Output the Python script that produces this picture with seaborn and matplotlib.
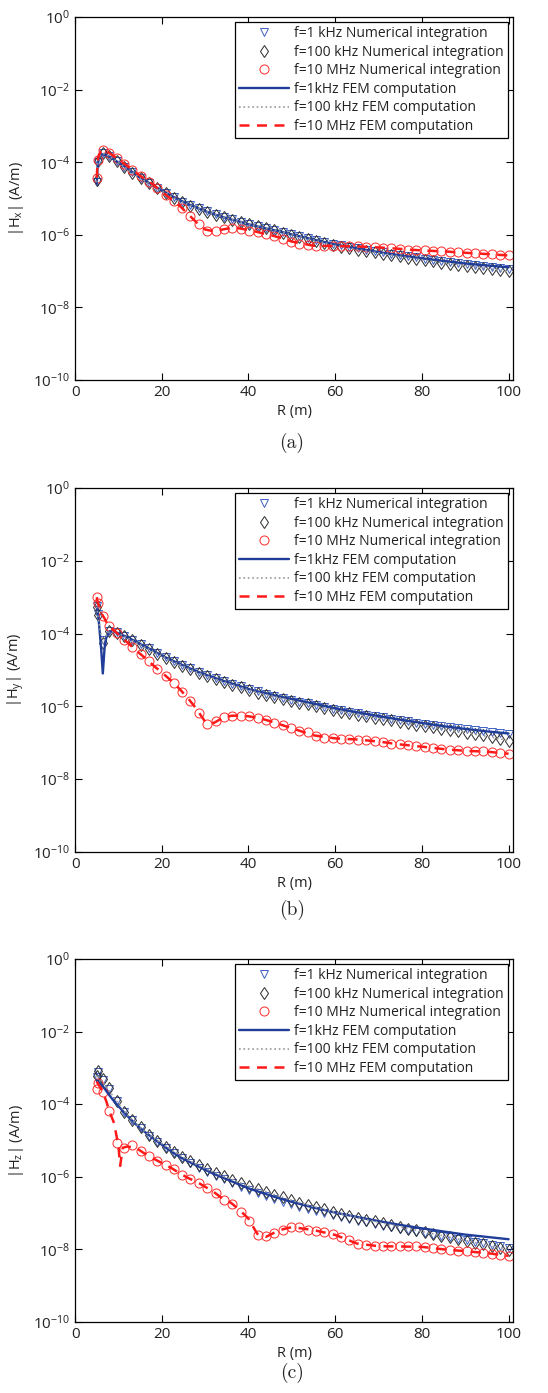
import matplotlib
matplotlib.use("Agg")
import matplotlib.pyplot as plt
import seaborn as sns

sns.set_style("ticks")
plt.rcParams["font.family"] = ["Open Sans", "DejaVu Sans"]
plt.rcParams["mathtext.fontset"] = "custom"
plt.rcParams["mathtext.rm"] = "Open Sans"
plt.rcParams["mathtext.it"] = "Open Sans:italic"
plt.rcParams["mathtext.default"] = "regular"

# distances of the numerical-integration samples
R_num = [5.0, 5.2, 6.4, 7.8, 9.6, 11.4, 13.2, 15.1, 17.0, 18.9, 20.9, 22.8, 24.7,
         26.6, 28.6, 30.5, 32.4, 34.4, 36.3, 38.2, 40.2, 42.1, 44.0, 45.9, 47.9,
         49.8, 51.7, 53.7, 55.6, 57.5, 59.4, 61.4, 63.3, 65.2, 67.2, 69.1, 71.0,
         72.9, 74.9, 76.8, 78.7, 80.7, 82.6, 84.5, 86.4, 88.4, 90.3, 92.2, 94.2,
         96.1, 98.0, 100.0]

# distances of the FEM curves
R_fem = [5.0, 5.2, 5.5, 6.0, 6.4, 6.8, 7.2, 8, 9, 10, 10.4, 11, 12, 14, 16, 18,
         20, 22, 24, 26, 28, 30, 32, 34, 36, 38, 40, 42, 44, 46, 48, 50, 55, 60,
         65, 70, 75, 80, 85, 90, 95, 100]

# ---- |Hx| ----
hx_1k = [2.8e-5, 1.0e-4, 1.75e-4, 1.45e-4, 1.07e-4, 7.6e-5, 5.3e-5, 3.7e-5, 2.65e-5,
         1.95e-5, 1.45e-5, 1.08e-5, 8.2e-6, 6.5e-6, 5.4e-6, 4.4e-6, 3.65e-6, 3.05e-6,
         2.65e-6, 2.3e-6, 2.0e-6, 1.75e-6, 1.55e-6, 1.37e-6, 1.2e-6, 1.03e-6, 9.2e-7,
         8.2e-7, 7.3e-7, 6.4e-7, 5.6e-7, 5.1e-7, 4.65e-7, 4.25e-7, 3.9e-7, 3.6e-7,
         3.3e-7, 3.05e-7, 2.8e-7, 2.6e-7, 2.4e-7, 2.22e-7, 2.06e-7, 1.92e-7, 1.8e-7,
         1.68e-7, 1.57e-7, 1.47e-7, 1.38e-7, 1.3e-7, 1.23e-7, 1.17e-7]
hx_100k = [3.2e-5, 1.08e-4, 1.8e-4, 1.45e-4, 1.05e-4, 7.5e-5, 5.2e-5, 3.6e-5, 2.6e-5,
           1.9e-5, 1.4e-5, 1.05e-5, 8.0e-6, 6.3e-6, 5.3e-6, 4.3e-6, 3.6e-6, 3.0e-6,
           2.6e-6, 2.25e-6, 1.95e-6, 1.7e-6, 1.5e-6, 1.32e-6, 1.15e-6, 9.8e-7, 8.7e-7,
           7.7e-7, 6.8e-7, 5.9e-7, 5.2e-7, 4.7e-7, 4.3e-7, 3.9e-7, 3.6e-7, 3.3e-7,
           3.05e-7, 2.8e-7, 2.55e-7, 2.35e-7, 2.15e-7, 2.0e-7, 1.85e-7, 1.72e-7, 1.6e-7,
           1.48e-7, 1.38e-7, 1.28e-7, 1.19e-7, 1.11e-7, 1.04e-7, 9.8e-8]
hx_10M = [3.7e-5, 1.15e-4, 2.2e-4, 1.8e-4, 1.3e-4, 8.9e-5, 6.1e-5, 4.2e-5, 2.9e-5,
          1.9e-5, 1.25e-5, 8.5e-6, 5.4e-6, 3.2e-6, 1.95e-6, 1.3e-6, 1.3e-6, 1.45e-6,
          1.55e-6, 1.45e-6, 1.3e-6, 1.17e-6, 1.03e-6, 9.3e-7, 7.8e-7, 6.5e-7, 5.6e-7,
          5.3e-7, 5.0e-7, 4.9e-7, 4.9e-7, 4.9e-7, 4.9e-7, 4.8e-7, 4.7e-7, 4.6e-7,
          4.4e-7, 4.3e-7, 4.1e-7, 3.9e-7, 3.8e-7, 3.7e-7, 3.6e-7, 3.5e-7, 3.4e-7,
          3.3e-7, 3.2e-7, 3.1e-7, 3.0e-7, 2.9e-7, 2.8e-7, 2.7e-7]
hx_fem_1k = [2.5e-5, 8e-5, 1.3e-4, 1.6e-4, 1.65e-4, 1.62e-4, 1.58e-4, 1.4e-4, 1.18e-4,
             9.8e-5, 9.2e-5, 8.3e-5, 6.8e-5, 4.6e-5, 3.2e-5, 2.3e-5, 1.65e-5, 1.22e-5,
             9.2e-6, 7.1e-6, 5.6e-6, 4.5e-6, 3.7e-6, 3.1e-6, 2.65e-6, 2.3e-6, 1.95e-6,
             1.72e-6, 1.5e-6, 1.33e-6, 1.17e-6, 1.02e-6, 7.4e-7, 5.4e-7, 4.2e-7, 3.35e-7,
             2.7e-7, 2.25e-7, 1.9e-7, 1.62e-7, 1.43e-7, 1.27e-7]
hx_fem_100k = [2.8e-5, 9e-5, 1.35e-4, 1.65e-4, 1.75e-4, 1.7e-4, 1.6e-4, 1.42e-4, 1.18e-4,
               9.8e-5, 9.0e-5, 8.0e-5, 6.6e-5, 4.5e-5, 3.1e-5, 2.2e-5, 1.6e-5, 1.18e-5,
               8.8e-6, 6.8e-6, 5.5e-6, 4.5e-6, 3.7e-6, 3.1e-6, 2.65e-6, 2.3e-6, 1.98e-6,
               1.72e-6, 1.52e-6, 1.32e-6, 1.15e-6, 1.0e-6, 7.2e-7, 5.1e-7, 3.95e-7, 3.2e-7,
               2.55e-7, 2.05e-7, 1.7e-7, 1.42e-7, 1.18e-7, 9.8e-8]
hx_fem_10M = [3.7e-5, 1.1e-4, 1.6e-4, 2.0e-4, 2.2e-4, 2.15e-4, 2.1e-4, 1.75e-4, 1.45e-4,
              1.2e-4, 1.1e-4, 9.7e-5, 8e-5, 5.2e-5, 3.5e-5, 2.4e-5, 1.55e-5, 1.0e-5,
              6.5e-6, 3.8e-6, 2.2e-6, 1.4e-6, 1.25e-6, 1.4e-6, 1.55e-6, 1.5e-6, 1.35e-6,
              1.2e-6, 1.05e-6, 9.2e-7, 7.8e-7, 6.5e-7, 5.0e-7, 4.9e-7, 4.8e-7, 4.5e-7,
              4.1e-7, 3.7e-7, 3.5e-7, 3.2e-7, 2.95e-7, 2.7e-7]

# ---- |Hy| ----
hy_1k = [5.8e-4, 3.4e-4, 6.5e-5, 1.2e-4, 1.07e-4, 8.7e-5, 6.7e-5, 5.1e-5, 3.9e-5,
         2.95e-5, 2.25e-5, 1.75e-5, 1.38e-5, 1.1e-5, 8.9e-6, 7.3e-6, 6.0e-6, 5.0e-6,
         4.2e-6, 3.55e-6, 3.0e-6, 2.6e-6, 2.25e-6, 1.97e-6, 1.73e-6, 1.53e-6, 1.36e-6,
         1.21e-6, 1.08e-6, 9.7e-7, 8.7e-7, 7.9e-7, 7.1e-7, 6.5e-7, 5.9e-7, 5.4e-7,
         4.95e-7, 4.55e-7, 4.2e-7, 3.9e-7, 3.6e-7, 3.35e-7, 3.1e-7, 2.9e-7, 2.7e-7,
         2.52e-7, 2.36e-7, 2.22e-7, 2.08e-7, 1.95e-7, 1.84e-7, 1.73e-7]
hy_100k = [5.5e-4, 3.2e-4, 5.5e-5, 1.2e-4, 1.05e-4, 8.5e-5, 6.5e-5, 4.9e-5, 3.7e-5,
           2.8e-5, 2.15e-5, 1.65e-5, 1.3e-5, 1.03e-5, 8.3e-6, 6.8e-6, 5.6e-6, 4.6e-6,
           3.9e-6, 3.3e-6, 2.8e-6, 2.4e-6, 2.1e-6, 1.85e-6, 1.62e-6, 1.43e-6, 1.27e-6,
           1.13e-6, 1.0e-6, 8.9e-7, 8.0e-7, 7.2e-7, 6.5e-7, 5.9e-7, 5.4e-7, 4.9e-7,
           4.5e-7, 4.1e-7, 3.75e-7, 3.45e-7, 3.15e-7, 2.9e-7, 2.65e-7, 2.45e-7, 2.25e-7,
           2.05e-7, 1.9e-7, 1.75e-7, 1.6e-7, 1.45e-7, 1.3e-7, 1.15e-7]
hy_10M = [1.0e-3, 7.0e-4, 3.1e-4, 1.6e-4, 1.05e-4, 6.8e-5, 4.2e-5, 2.8e-5, 1.75e-5,
          1.05e-5, 7.0e-6, 4.3e-6, 2.5e-6, 1.4e-6, 6.5e-7, 3.3e-7, 3.9e-7, 5.0e-7,
          5.6e-7, 5.6e-7, 5.3e-7, 4.8e-7, 4.2e-7, 3.6e-7, 3.0e-7, 2.5e-7, 2.1e-7,
          2.0e-7, 1.5e-7, 1.37e-7, 1.32e-7, 1.3e-7, 1.27e-7, 1.22e-7, 1.17e-7, 1.12e-7,
          1.05e-7, 9.5e-8, 9.0e-8, 8.5e-8, 8.0e-8, 7.6e-8, 7.2e-8, 6.8e-8, 6.5e-8,
          6.2e-8, 6.0e-8, 5.9e-8, 5.8e-8, 5.6e-8, 5.4e-8, 5.0e-8]
hy_fem_1k = [5.5e-4, 4e-4, 2e-4, 4e-5, 8e-6, 4e-5, 8e-5, 1.15e-4, 1.12e-4,
             1.02e-4, 9.7e-5, 9.0e-5, 8e-5, 6e-5, 4.5e-5, 3.4e-5, 2.5e-5, 1.9e-5,
             1.5e-5, 1.17e-5, 9.2e-6, 7.5e-6, 6.2e-6, 5.1e-6, 4.3e-6, 3.6e-6, 3.0e-6,
             2.6e-6, 2.3e-6, 2.0e-6, 1.78e-6, 1.58e-6, 1.2e-6, 8.8e-7, 6.9e-7, 5.4e-7,
             4.3e-7, 3.5e-7, 2.85e-7, 2.4e-7, 2.05e-7, 1.8e-7]
hy_fem_100k = [5.5e-4, 3.5e-4, 2.0e-4, 9e-5, 5.5e-5, 7e-5, 9e-5, 1.15e-4, 1.1e-4,
               1.0e-4, 9.6e-5, 8.9e-5, 7.6e-5, 5.7e-5, 4.3e-5, 3.2e-5, 2.45e-5, 1.85e-5,
               1.42e-5, 1.12e-5, 8.8e-6, 7.1e-6, 5.8e-6, 4.8e-6, 4.0e-6, 3.35e-6, 2.85e-6,
               2.45e-6, 2.1e-6, 1.85e-6, 1.62e-6, 1.43e-6, 1.05e-6, 7.8e-7, 5.9e-7, 4.65e-7,
               3.7e-7, 3.0e-7, 2.4e-7, 1.9e-7, 1.5e-7, 1.15e-7]
hy_fem_10M = [1.0e-3, 7.5e-4, 5.5e-4, 3.8e-4, 3.1e-4, 2.6e-4, 2.1e-4, 1.55e-4, 1.2e-4,
              9.5e-5, 8.5e-5, 7.3e-5, 5.8e-5, 3.5e-5, 2.2e-5, 1.35e-5, 8.5e-6, 5.3e-6,
              3.1e-6, 1.7e-6, 8.5e-7, 3.8e-7, 3.5e-7, 4.8e-7, 5.5e-7, 5.6e-7, 5.35e-7,
              4.85e-7, 4.25e-7, 3.6e-7, 3.0e-7, 2.5e-7, 1.6e-7, 1.32e-7, 1.23e-7, 1.08e-7,
              9.0e-8, 7.8e-8, 6.7e-8, 6.0e-8, 5.7e-8, 5.0e-8]

# ---- |Hz| ----
hz_1k = [5.5e-4, 7.5e-4, 4.5e-4, 2.6e-4, 1.2e-4, 6.0e-5, 3.6e-5, 2.2e-5, 1.35e-5,
         9.0e-6, 6.2e-6, 4.4e-6, 3.2e-6, 2.35e-6, 1.75e-6, 1.32e-6, 1.05e-6, 8.4e-7,
         6.8e-7, 5.3e-7, 4.3e-7, 3.55e-7, 2.95e-7, 2.45e-7, 2.05e-7, 1.75e-7, 1.5e-7,
         1.29e-7, 1.12e-7, 9.8e-8, 8.7e-8, 7.6e-8, 6.8e-8, 6.1e-8, 5.5e-8, 5.0e-8,
         4.5e-8, 4.1e-8, 3.7e-8, 3.35e-8, 3.05e-8, 2.8e-8, 2.55e-8, 2.35e-8, 2.15e-8,
         1.97e-8, 1.8e-8, 1.63e-8, 1.48e-8, 1.34e-8, 1.2e-8, 1.08e-8]
hz_100k = [6.0e-4, 8.0e-4, 5.0e-4, 2.7e-4, 1.25e-4, 6.2e-5, 3.7e-5, 2.3e-5, 1.45e-5,
           9.8e-6, 6.8e-6, 4.9e-6, 3.6e-6, 2.7e-6, 2.05e-6, 1.6e-6, 1.27e-6, 1.02e-6,
           8.3e-7, 6.7e-7, 5.5e-7, 4.6e-7, 3.85e-7, 3.2e-7, 2.7e-7, 2.3e-7, 1.95e-7,
           1.68e-7, 1.45e-7, 1.26e-7, 1.1e-7, 9.6e-8, 8.5e-8, 7.5e-8, 6.6e-8, 5.9e-8,
           5.3e-8, 4.7e-8, 4.2e-8, 3.75e-8, 3.35e-8, 3.0e-8, 2.7e-8, 2.4e-8, 2.15e-8,
           1.92e-8, 1.72e-8, 1.54e-8, 1.38e-8, 1.24e-8, 1.1e-8, 9.8e-9]
hz_10M = [2.6e-4, 3.8e-4, 2.2e-4, 6.5e-5, 8.5e-6, 6.1e-6, 7.3e-6, 5.2e-6, 3.7e-6,
          2.8e-6, 2.1e-6, 1.6e-6, 1.13e-6, 8.5e-7, 6.9e-7, 4.8e-7, 3.5e-7, 2.3e-7,
          1.8e-7, 1.1e-7, 6.0e-8, 2.5e-8, 2.3e-8, 2.9e-8, 3.5e-8, 4.1e-8, 4.1e-8,
          3.5e-8, 3.3e-8, 3.0e-8, 2.6e-8, 2.2e-8, 1.8e-8, 1.4e-8, 1.32e-8, 1.25e-8,
          1.2e-8, 1.2e-8, 1.2e-8, 1.2e-8, 1.2e-8, 1.15e-8, 1.08e-8, 1.02e-8, 9.6e-9,
          9.2e-9, 8.8e-9, 8.4e-9, 8.1e-9, 7.6e-9, 7.2e-9, 6.6e-9]
hz_fem_1k = [4.5e-4, 4.3e-4, 4.0e-4, 3.5e-4, 3.1e-4, 2.7e-4, 2.3e-4, 1.7e-4, 1.2e-4,
             8.8e-5, 7.8e-5, 6.5e-5, 4.8e-5, 2.8e-5, 1.75e-5, 1.15e-5, 7.6e-6, 5.2e-6,
             3.6e-6, 2.7e-6, 2.05e-6, 1.55e-6, 1.2e-6, 9.5e-7, 7.6e-7, 6.0e-7, 4.8e-7,
             4.0e-7, 3.35e-7, 2.8e-7, 2.38e-7, 2.03e-7, 1.42e-7, 1.03e-7, 7.8e-8, 6.0e-8,
             4.7e-8, 3.8e-8, 3.1e-8, 2.55e-8, 2.2e-8, 1.9e-8]
hz_fem_100k = [5.5e-4, 6.5e-4, 5.5e-4, 4.6e-4, 4.0e-4, 3.5e-4, 3.0e-4, 2.2e-4, 1.5e-4,
               1.05e-4, 9e-5, 7.3e-5, 5.2e-5, 2.9e-5, 1.8e-5, 1.2e-5, 8.2e-6, 5.7e-6,
               4.0e-6, 2.95e-6, 2.2e-6, 1.7e-6, 1.33e-6, 1.06e-6, 8.6e-7, 6.9e-7, 5.6e-7,
               4.7e-7, 3.9e-7, 3.2e-7, 2.7e-7, 2.25e-7, 1.5e-7, 1.05e-7, 7.5e-8, 5.6e-8,
               4.2e-8, 3.1e-8, 2.35e-8, 1.75e-8, 1.3e-8, 9.8e-9]
hz_fem_10M = [4.2e-4, 3.8e-4, 3.3e-4, 2.6e-4, 2.1e-4, 1.6e-4, 1.2e-4, 6e-5, 3.0e-5,
              7e-6, 2.0e-6, 6.3e-6, 6.8e-6, 6.3e-6, 4.4e-6, 3.2e-6, 2.4e-6, 1.8e-6,
              1.28e-6, 9.3e-7, 7.3e-7, 5.3e-7, 3.8e-7, 2.5e-7, 1.9e-7, 1.2e-7, 7e-8,
              2.7e-8, 2.2e-8, 2.9e-8, 3.6e-8, 4.1e-8, 3.4e-8, 2.5e-8, 1.45e-8, 1.22e-8,
              1.2e-8, 1.17e-8, 1.0e-8, 8.9e-9, 7.9e-9, 6.6e-9]

labels = ["f=1 kHz Numerical integration", "f=100 kHz Numerical integration",
          "f=10 MHz Numerical integration", "f=1kHz FEM computation",
          "f=100 kHz FEM computation", "f=10 MHz FEM computation"]

panels = [
    ("x", "(a)", [hx_1k, hx_100k, hx_10M], [hx_fem_1k, hx_fem_100k, hx_fem_10M]),
    ("y", "(b)", [hy_1k, hy_100k, hy_10M], [hy_fem_1k, hy_fem_100k, hy_fem_10M]),
    ("z", "(c)", [hz_1k, hz_100k, hz_10M], [hz_fem_1k, hz_fem_100k, hz_fem_10M]),
]

TRI = "#3d5fc4"
DIA = "#2b2b2b"
CIR = "#ff2a2a"
BLUE = "#1f3d99"
GRAY = "#9a9a9a"
RED = "#ff1a1a"
TXT = "#222222"

fig = plt.figure(figsize=(5.48, 13.93), dpi=100)
# axes boxes in figure fraction, top to bottom, and y of the (a)/(b)/(c) tags
boxes = [(0.137, 0.7272, 0.799, 0.2606),
         (0.137, 0.3884, 0.799, 0.2613),
         (0.137, 0.0510, 0.799, 0.2606)]
tag_y = [0.682, 0.3467, 0.0144]

for (comp, tag, num, fem), box, ty in zip(panels, boxes, tag_y):
    ax = fig.add_axes(box)
    mk = dict(linestyle="", errorbar=None, sort=False, ax=ax,
              markerfacecolor="none", markeredgewidth=0.7)
    sns.lineplot(x=R_num, y=num[0], marker="v", markersize=5.5,
                 color=TRI, markeredgecolor=TRI, label=labels[0], **mk)
    sns.lineplot(x=R_num, y=num[1], marker="d", markersize=6.5,
                 color=DIA, markeredgecolor=DIA, label=labels[1], **mk)
    sns.lineplot(x=R_num, y=num[2], marker="o", markersize=6.5,
                 color=CIR, markeredgecolor=CIR, label=labels[2], **mk)
    sns.lineplot(x=R_fem, y=fem[0], color=BLUE, linewidth=1.7, errorbar=None,
                 sort=False, ax=ax, label=labels[3])
    sns.lineplot(x=R_fem, y=fem[1], color=GRAY, linewidth=1.2, linestyle=":",
                 errorbar=None, sort=False, ax=ax, label=labels[4])
    sns.lineplot(x=R_fem, y=fem[2], color=RED, linewidth=1.8, linestyle=(0, (4, 3)),
                 errorbar=None, sort=False, ax=ax, label=labels[5])

    ax.set_yscale("log")
    ax.set_xlim(0, 101)
    ax.set_ylim(1e-10, 1)
    ax.set_yticks([1e-10, 1e-8, 1e-6, 1e-4, 1e-2, 1])
    ax.minorticks_off()
    ax.set_xticks([0, 20, 40, 60, 80, 100])
    ax.tick_params(direction="in", length=5, width=0.8, top=True, right=True,
                   labelsize=11, colors="black", labelcolor=TXT)
    for s in ax.spines.values():
        s.set_color("black")
        s.set_linewidth(0.9)
    ax.set_xlabel("R (m)", fontsize=10.5, color=TXT, labelpad=3)
    ax.set_ylabel("|H$_{%s}$| (A/m)" % comp, fontsize=10.5, color=TXT, labelpad=5)

    handles, labs = ax.get_legend_handles_labels()
    leg = ax.legend(handles=handles, labels=labs, loc="upper right", fontsize=10,
                    frameon=True, fancybox=False, framealpha=1, edgecolor="black",
                    handlelength=3.6, handletextpad=0.4, labelspacing=0.26,
                    borderpad=0.3, borderaxespad=0.35, numpoints=1)
    leg.get_frame().set_linewidth(0.9)
    for t in leg.get_texts():
        t.set_color(TXT)

    # sub-figure tag under the axes
    x0, y0, w, h = box
    fig.text(x0 + w * 0.495, ty, tag, ha="center", va="center",
             fontsize=14, family="cmr10")

fig.savefig("out.png", dpi=100)
plt.close(fig)
